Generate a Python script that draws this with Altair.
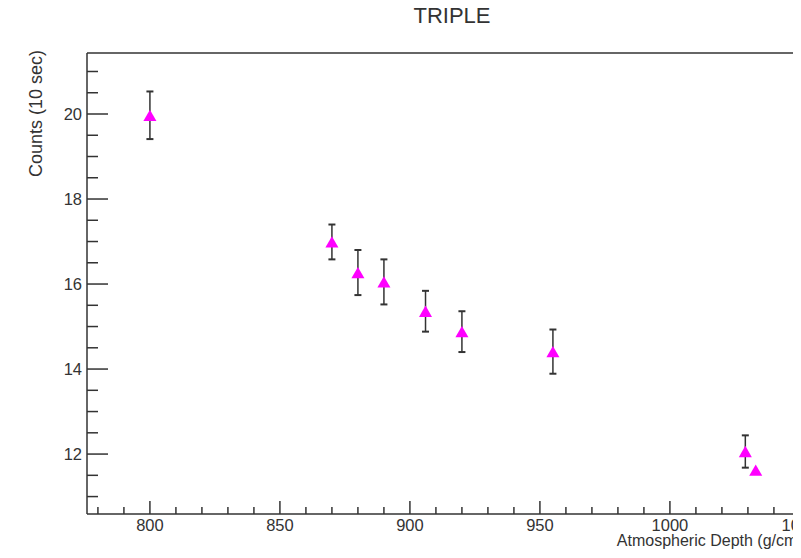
import altair as alt
import pandas as pd

# ---- text ----
title_text = "TRIPLE"
x_title = "Atmospheric Depth (g/cm²)"
y_title = "Counts (10 sec)"

# ---- data ----
depth = [800, 870, 880, 890, 906, 920, 955, 1029, 1033]
counts = [19.97, 16.99, 16.27, 16.05, 15.36, 14.88, 14.41, 12.06, 11.62]
errors = [0.56, 0.41, 0.53, 0.53, 0.48, 0.48, 0.52, 0.38, 0.0]

# ---- axis ticks and labels ----
x_major = [800, 850, 900, 950, 1000, 1050]
x_labels = ["800", "850", "900", "950", "1000", "1050"]
x_minor = [780, 790, 810, 820, 830, 840, 860, 870, 880, 890, 910, 920, 930, 940,
           960, 970, 980, 990, 1010, 1020, 1030, 1040]
y_major = [12, 14, 16, 18, 20]
y_labels = ["12", "14", "16", "18", "20"]
y_minor = [11.0, 11.5, 12.5, 13.0, 13.5, 14.5, 15.0, 15.5, 16.5, 17.0, 17.5,
           18.5, 19.0, 19.5, 20.5, 21.0]

W, H = 706, 461
PX_PER_X = 2.6
x_domain = [775.8, 775.8 + W / PX_PER_X]
y_domain = [10.59, 21.435]

FONT = "Liberation Sans"
INK = "#333333"
FS = 16.5
LW = 1.5

df = pd.DataFrame({"depth": depth, "counts": counts, "err": errors})
df["lo"] = df["counts"] - df["err"]
df["hi"] = df["counts"] + df["err"]
bars_df = df[df["err"] > 0]

xs = alt.Scale(domain=x_domain, nice=False, zero=False)
ys = alt.Scale(domain=y_domain, nice=False, zero=False)


def X(field):
    return alt.X(field, scale=xs, axis=None)


def Y(field):
    return alt.Y(field, scale=ys, axis=None)


one = pd.DataFrame({"k": [0]})

# frame: left, bottom, top (right edge lies beyond the picture)
left_line = alt.Chart(one).mark_rule(color=INK, strokeWidth=LW).encode(
    x=alt.value(0), y=alt.value(0), y2=alt.value(H))
bottom_line = alt.Chart(one).mark_rule(color=INK, strokeWidth=LW).encode(
    x=alt.value(0), x2=alt.value(W), y=alt.value(H))
top_line = alt.Chart(one).mark_rule(color=INK, strokeWidth=LW).encode(
    x=alt.value(0), x2=alt.value(W), y=alt.value(0))

# inward ticks
ymaj = alt.Chart(pd.DataFrame({"v": y_major})).mark_rule(color=INK, strokeWidth=LW).encode(
    y=Y("v:Q"), x=alt.value(0), x2=alt.value(21))
ymin = alt.Chart(pd.DataFrame({"v": y_minor})).mark_rule(color=INK, strokeWidth=LW).encode(
    y=Y("v:Q"), x=alt.value(0), x2=alt.value(11))
xmaj = alt.Chart(pd.DataFrame({"v": x_major})).mark_rule(color=INK, strokeWidth=LW).encode(
    x=X("v:Q"), y=alt.value(H), y2=alt.value(H - 13))
xmin = alt.Chart(pd.DataFrame({"v": x_minor})).mark_rule(color=INK, strokeWidth=LW).encode(
    x=X("v:Q"), y=alt.value(H), y2=alt.value(H - 7))

# tick labels
xlab = alt.Chart(pd.DataFrame({"v": x_major, "t": x_labels})).mark_text(
    font=FONT, fontSize=FS, color=INK, align="center", baseline="alphabetic"
).encode(x=X("v:Q"), y=alt.value(H + 17), text="t:N")
ylab = alt.Chart(pd.DataFrame({"v": y_major, "t": y_labels})).mark_text(
    font=FONT, fontSize=FS, color=INK, align="right", baseline="alphabetic", dy=6
).encode(y=Y("v:Q"), x=alt.value(-5), text="t:N")

# axis titles (ROOT style: at the end of each axis)
xttl = alt.Chart(one).mark_text(
    font=FONT, fontSize=16, color=INK, align="right", baseline="alphabetic"
).encode(x=alt.value(721), y=alt.value(H + 32), text=alt.value(x_title))
yttl = alt.Chart(one).mark_text(
    font=FONT, fontSize=18, color=INK, align="right", baseline="alphabetic", angle=270
).encode(x=alt.value(-45), y=alt.value(-3), text=alt.value(y_title))

# error bars and markers
err_rule = alt.Chart(bars_df).mark_rule(color=INK, strokeWidth=LW).encode(
    x=X("depth:Q"), y=Y("lo:Q"), y2="hi:Q")
err_caps = alt.Chart(bars_df).transform_fold(["lo", "hi"], as_=["k", "yv"]).mark_tick(
    orient="horizontal", size=7, thickness=2, color=INK, opacity=1
).encode(x=X("depth:Q"), y=Y("yv:Q"))
points = alt.Chart(df).mark_point(
    shape="triangle-up", filled=True, size=170, color="#ff00ff", opacity=1
).encode(x=X("depth:Q"), y=Y("counts:Q"))

chart = alt.layer(
    top_line, left_line, bottom_line, ymaj, ymin, xmaj, xmin,
    xlab, ylab, xttl, yttl, err_rule, err_caps, points
).properties(
    width=W, height=H,
    autosize=alt.AutoSizeParams(type="none"),
    padding={"left": 79, "top": 45, "right": 0, "bottom": 35},
    background="white",
    title=alt.Title(title_text, font=FONT, fontSize=22, fontWeight="normal", color=INK,
                    anchor="middle", frame="group", offset=22, dx=12),
).configure_view(strokeWidth=0)

chart.save("out.html", embed_options={"renderer": "svg", "actions": False})
